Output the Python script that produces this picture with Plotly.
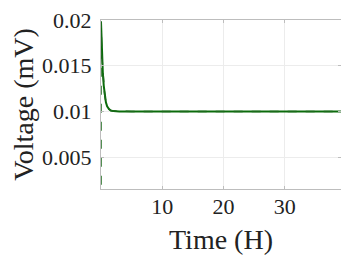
import plotly.graph_objects as go

# simulated voltage response
time_h = [0, 0.05, 0.1, 0.2, 0.3, 0.45, 0.6, 0.8, 1.0, 1.3, 1.6, 2.0, 3.0, 5.0, 10, 15, 20, 25, 30, 35, 39.2]
voltage = [0.0198, 0.0185, 0.0172, 0.0155, 0.0142, 0.0128, 0.0118, 0.0110, 0.01055, 0.01025, 0.0101, 0.01003,
           0.0100, 0.0100, 0.0100, 0.0100, 0.0100, 0.0100, 0.0100, 0.0100, 0.0100]

# reference (dashed), starts from zero at t=0
ref_time = [0, 0, 0.05, 0.1, 0.2, 0.3, 0.45, 0.6, 0.8, 1.0, 1.3, 1.6, 2.0, 3.0, 5.0, 10, 20, 30, 39.2]
ref_voltage = [0.0, 0.0199, 0.0185, 0.0172, 0.0155, 0.0142, 0.0128, 0.0118, 0.0110, 0.01055, 0.01025, 0.0101,
               0.01003, 0.0100, 0.0100, 0.0100, 0.0100, 0.0100, 0.0100]

x_ticks = [10, 20, 30]
y_ticks = [0.005, 0.01, 0.015, 0.02]
y_labels = ["0.005", "0.01", "0.015", "0.02"]

serif = "'Liberation Serif', 'Times New Roman', Times, serif"

fig = go.Figure()
fig.add_trace(go.Scatter(x=time_h, y=voltage, mode="lines",
                         line=dict(color="#0b6b0b", width=2)))
fig.add_trace(go.Scatter(x=ref_time, y=ref_voltage, mode="lines",
                         line=dict(color="#1a6a1a", width=1.5, dash="dash")))

axis_style = dict(showline=True, linecolor="#bdbdbd", linewidth=1, mirror="ticks",
                  ticks="inside", ticklen=3, tickcolor="#bdbdbd", ticklabeloverflow="allow",
                  showgrid=True, gridcolor="#ececec", zeroline=False, automargin=False,
                  tickfont=dict(family=serif, size=22, color="#222"))

fig.update_xaxes(range=[0, 39.2], tickvals=x_ticks, ticklabelstandoff=-2,
                 title=dict(text="Time (H)", font=dict(family=serif, size=28, color="#222"), standoff=10),
                 **axis_style)
fig.update_yaxes(range=[0.0015, 0.02001], tickvals=y_ticks, ticktext=y_labels, ticklabelstandoff=4,
                 title=dict(text="Voltage (mV)", font=dict(family=serif, size=28, color="#222"), standoff=8),
                 **axis_style)

# page body adds 8px, so margins are shifted to land the plot where the reference has it
fig.update_layout(width=349, height=262, showlegend=False,
                  margin=dict(l=93, r=16, t=12, b=81),
                  plot_bgcolor="white", paper_bgcolor="white")

fig.write_html("out.html")
